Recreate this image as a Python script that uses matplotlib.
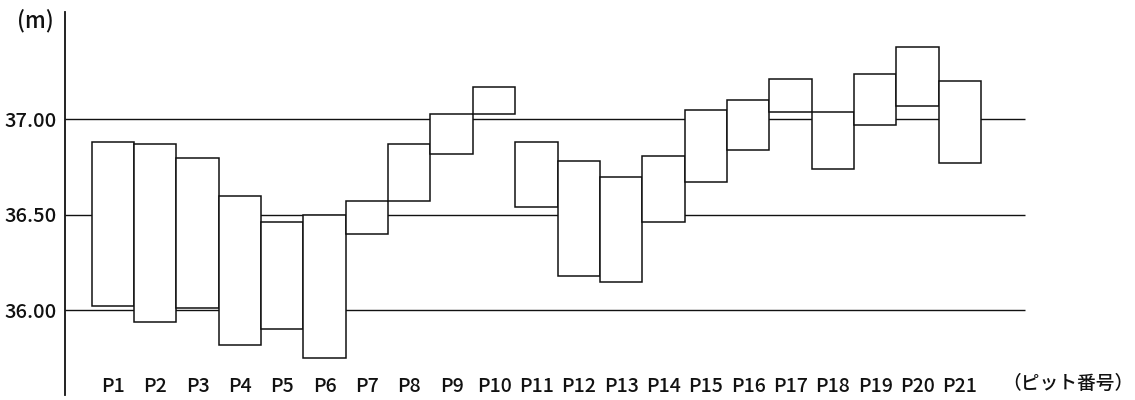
import matplotlib
matplotlib.use("Agg")
import matplotlib.pyplot as plt
import matplotlib.transforms as mtransforms

plt.rcParams['font.family'] = ['Noto Sans CJK JP', 'DejaVu Sans']

# Elevation range (m) observed in each pit
pits = [f"P{i}" for i in range(1, 22)]
tops = [36.88, 36.87, 36.80, 36.60, 36.46, 36.50, 36.57, 36.87, 37.03, 37.17,
        36.88, 36.78, 36.70, 36.81, 37.05, 37.10, 37.21, 37.04, 37.24, 37.38, 37.20]
bottoms = [36.02, 35.94, 36.01, 35.82, 35.90, 35.75, 36.40, 36.57, 36.82, 37.03,
           36.54, 36.18, 36.15, 36.46, 36.67, 36.84, 37.04, 36.74, 36.97, 37.07, 36.77]
ref_levels = [36.00, 36.50, 37.00]
ref_labels = ["36.00", "36.50", "37.00"]

ink = "#111111"

fig = plt.figure(figsize=(11.35, 4.0), dpi=100)
ax = fig.add_axes([65 / 1135, 5 / 400, 1 - 65 / 1135, 383 / 400])

x = list(range(1, len(pits) + 1))
ax.set_xlim(-0.13, 25.135)
ax.set_ylim(35.556, 37.563)

# reference levels behind the boxes
ax.hlines(ref_levels, -0.13, 22.54, colors=ink, linewidth=1.0, zorder=1)

# one box per pit spanning its elevation range
heights = [t - b for t, b in zip(tops, bottoms)]
ax.bar(x, heights, bottom=bottoms, width=1.0, color="white",
       edgecolor=ink, linewidth=1.1, zorder=2)

# axes styling
for side in ("top", "right", "bottom"):
    ax.spines[side].set_visible(False)
ax.spines["left"].set_linewidth(1.3)
ax.spines["left"].set_color(ink)
ax.set_yticks(ref_levels)
ax.set_yticklabels(ref_labels, fontsize=14.5, color=ink, fontweight="medium")
ax.tick_params(axis="y", length=0, pad=6)
ax.set_xticks([])

# pit labels along the bottom
trans = mtransforms.blended_transform_factory(ax.transData, ax.transAxes)
for xi, name in zip(x, pits):
    ax.text(xi, 0.022, name, transform=trans, ha="center", va="center",
            fontsize=14, color=ink, fontweight="medium")

fig.text(35.5 / 1135, 1 - 21 / 400, "(m)", ha="center", va="center",
         fontsize=16, color=ink, fontweight="medium")
fig.text(1068 / 1135, 1 - 383 / 400, "（ピット番号）", ha="center", va="center",
         fontsize=13.5, color=ink, fontweight="medium")

fig.savefig("out.png", dpi=100, facecolor="white")
